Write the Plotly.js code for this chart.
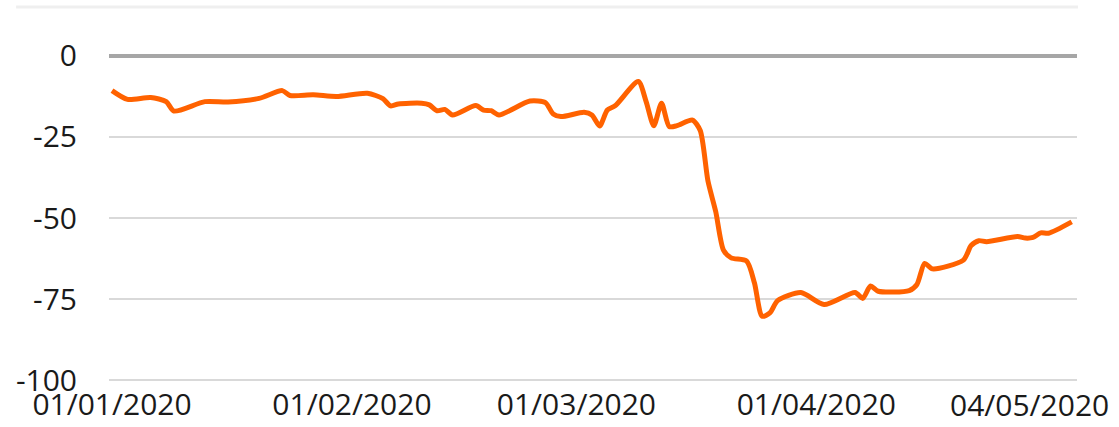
<!DOCTYPE html>
<html>
<head>
<meta charset="utf-8">
<script src="https://cdn.plot.ly/plotly-3.0.1.min.js"></script>
<style>html,body{margin:0;padding:0;background:#fff;}#chart{width:1119px;height:427px;}</style>
</head>
<body>
<div id="chart"></div>
<script>
const dates = [
  '2020-01-01','2020-01-03','2020-01-06','2020-01-08','2020-01-09','2020-01-13','2020-01-16','2020-01-20',
  '2020-01-23','2020-01-24','2020-01-27','2020-01-30','2020-02-03','2020-02-05','2020-02-06','2020-02-07',
  '2020-02-10','2020-02-11','2020-02-12','2020-02-13','2020-02-14','2020-02-17','2020-02-18','2020-02-19',
  '2020-02-20','2020-02-24','2020-02-26','2020-02-27','2020-02-28','2020-03-02','2020-03-03','2020-03-04',
  '2020-03-05','2020-03-06','2020-03-09','2020-03-10','2020-03-11','2020-03-12','2020-03-13','2020-03-14',
  '2020-03-16','2020-03-17','2020-03-18','2020-03-19','2020-03-20','2020-03-21','2020-03-23','2020-03-24',
  '2020-03-25','2020-03-26','2020-03-27','2020-03-30','2020-04-02','2020-04-06','2020-04-07','2020-04-08',
  '2020-04-09','2020-04-13','2020-04-14','2020-04-15','2020-04-16','2020-04-20','2020-04-21','2020-04-22',
  '2020-04-23','2020-04-27','2020-04-28','2020-04-29','2020-04-30','2020-05-01','2020-05-04'
];
const values = [
  -10.7,-13.4,-12.8,-14.1,-17.0,-14.1,-14.2,-13.1,
  -10.7,-12.2,-12.0,-12.5,-11.5,-13.2,-15.4,-14.8,
  -14.6,-15.1,-16.9,-16.5,-18.2,-15.3,-16.7,-16.9,
  -18.2,-13.9,-14.4,-17.9,-18.7,-17.4,-18.2,-21.6,
  -16.7,-15.4,-7.9,-14.0,-21.5,-14.6,-21.8,-21.5,
  -19.8,-23.0,-38.6,-48.0,-59.9,-62.3,-63.3,-70.0,
  -80.3,-79.3,-75.5,-73.0,-76.7,-73.0,-74.8,-71.0,
  -72.6,-72.4,-70.5,-64.0,-65.7,-63.0,-58.5,-57.0,
  -57.3,-55.7,-56.2,-56.0,-54.6,-54.7,-51.2
];
const yTickVals = [0, -25, -50, -75, -100];
const yTickText = ['0', '-25', '-50', '-75', '-100'];
const xTickVals = ['2020-01-01', '2020-02-01', '2020-03-01', '2020-04-01'];
const xTickText = ['01/01/2020', '01/02/2020', '01/03/2020', '01/04/2020'];
const lastTickVal = '2020-05-04';
const lastTickText = '04/05/2020';

const fontFam = 'Open Sans, sans-serif';
const fontSize = 30;
const txtColor = '#1a1a1a';
const trace = {
  x: dates, y: values, type: 'scatter', mode: 'lines',
  line: {color: '#FF6200', width: 5, shape: 'spline', smoothing: 0.7},
  hoverinfo: 'skip'
};
const layout = {
  width: 1119, height: 427,
  margin: {l: 109, r: 42, t: 54, b: 45, pad: 0},
  paper_bgcolor: '#ffffff', plot_bgcolor: '#ffffff',
  showlegend: false,
  font: {family: fontFam, size: fontSize, color: txtColor},
  xaxis: {
    type: 'date',
    range: ['2019-12-31 14:40', '2020-05-04 16:20'],
    tickvals: xTickVals, ticktext: xTickText,
    showgrid: false, zeroline: false, showline: false,
    ticks: '', ticklabelstandoff: 2,
    tickfont: {family: fontFam, size: fontSize, color: txtColor}
  },
  yaxis: {
    range: [-100.6, 0.6],
    tickvals: yTickVals, ticktext: yTickText,
    showgrid: true, gridcolor: '#d9d9d9', gridwidth: 1.5,
    zeroline: true, zerolinecolor: '#a6a6a6', zerolinewidth: 3.5,
    showline: false, ticks: '', ticklabelstandoff: 31,
    tickfont: {family: fontFam, size: fontSize, color: txtColor}
  },
  shapes: [{
    type: 'line', xref: 'paper', yref: 'paper',
    x0: -0.096, x1: 1.001, y0: 1.143, y1: 1.143,
    line: {color: '#efefef', width: 3}
  }],
  annotations: [{
    x: lastTickVal, xref: 'x', yref: 'paper', y: 0,
    yanchor: 'top', xanchor: 'center', xshift: -42, yshift: 0,
    text: lastTickText, showarrow: false,
    font: {family: fontFam, size: fontSize, color: txtColor}
  }]
};
Plotly.newPlot('chart', [trace], layout, {displayModeBar: false, staticPlot: true});
</script>
</body>
</html>
